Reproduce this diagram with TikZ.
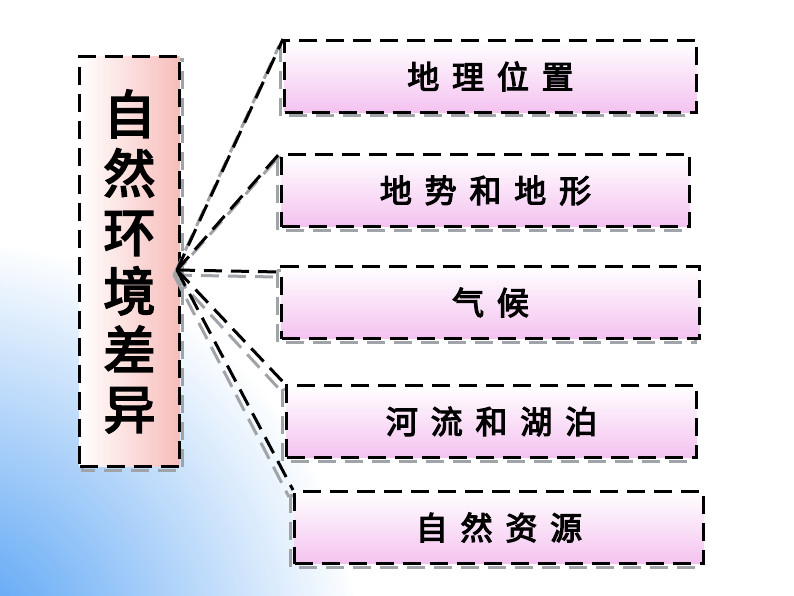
\documentclass[tikz,border=0pt]{standalone}
\usepackage{fontspec}
\newfontfamily\cjkb{Noto Sans CJK SC}[AutoFakeBold=3.5, LetterSpace=40]
\newfontfamily\cjkc{Noto Sans CJK SC}[AutoFakeBold=3.5]
\usetikzlibrary{fadings}
\definecolor{bgblue}{HTML}{3A93F3}
\definecolor{pinkb}{HTML}{F4C2F0}
\definecolor{salmon}{HTML}{F7BDBA}
\definecolor{shd}{HTML}{A0A4A8}
\pgfdeclarehorizontalshading{bgsh}{794bp}{color(0bp)=(white!78!bgblue); color(260bp)=(white); color(430bp)=(white); color(620bp)=(white!55!bgblue); color(794bp)=(bgblue)}
\tikzfading[name=softfade, inner color=transparent!0, outer color=transparent!100]
\tikzset{
  dsh/.style={dash pattern=on 18pt off 9pt, line width=3pt},
  itembox/.style={draw=black, dsh, top color=white, bottom color=pinkb, minimum height=72pt, inner sep=0pt, font=\cjkb\bfseries\fontsize{32}{34}\selectfont, anchor=north west},
  conn/.style={draw=black, dsh},
  connsh/.style={draw=shd, dsh, line width=3pt},
}
\begin{document}
\begin{tikzpicture}[x=1pt,y=-1pt]
\useasboundingbox (0,0) rectangle (794,596);
\path[shading=bgsh] (0,0) rectangle (794,596);
\fill[bgblue, path fading=softfade, opacity=0.95] (-60,660) circle (420pt);
% left box
\draw[shd, dsh] (82,60) rectangle (182,470);
\node[draw=black, dsh, left color=white, right color=salmon, anchor=north west, minimum width=100pt, minimum height=410pt, inner sep=0pt, align=center, font=\cjkc\bfseries\fontsize{52}{59}\selectfont] (L) at (78,55) {自\\然\\环\\境\\差\\异};
\coordinate (hub) at (177,270);
% shadows of boxes
\foreach \x/\y/\w in {283/39/412, 280/153/408, 280/265/418, 285/384/410, 293/490/409}
  \draw[shd, dsh] (\x-3,\y+5) rectangle ++(\w,72);
% connector shadows
\foreach \x/\y in {283/41, 280/155, 280/272, 285/386, 293/492}
  \draw[connsh] (174,275) -- (\x-4,\y+5);
\node[itembox, minimum width=412pt] (b1) at (283,39) {地理位置\hspace{-13pt}};
\node[itembox, minimum width=408pt] (b2) at (280,153) {地势和地形\hspace{-13pt}};
\node[itembox, minimum width=418pt] (b3) at (280,265) {气候\hspace{-13pt}};
\node[itembox, minimum width=410pt] (b4) at (285,384) {河流和湖泊\hspace{-13pt}};
\node[itembox, minimum width=409pt] (b5) at (293,490) {自然资源\hspace{-13pt}};
\draw[conn] (hub) -- (b1.north west);
\draw[conn] (hub) -- (b2.north west);
\draw[conn] (hub) -- ([yshift=-7pt]b3.north west);
\draw[conn] (hub) -- (b4.north west);
\draw[conn] (hub) -- (b5.north west);
\end{tikzpicture}
\end{document}
